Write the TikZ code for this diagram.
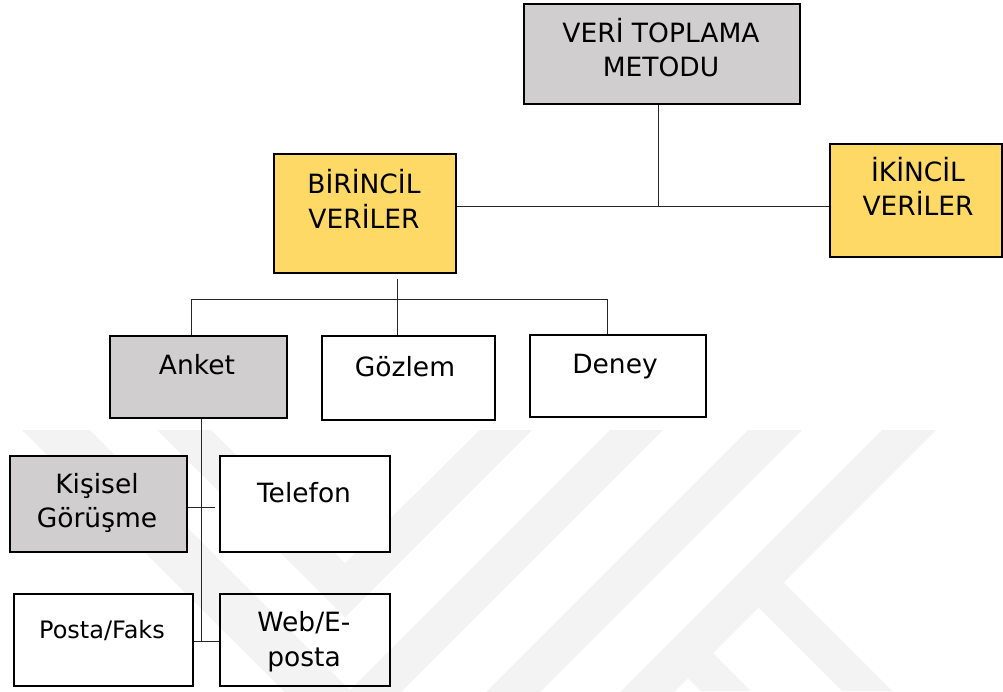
\documentclass[tikz,border=0pt]{standalone}
\usepackage{fontspec}
\setmainfont{DejaVu Sans}
\usetikzlibrary{calc}
\definecolor{boxgray}{HTML}{D0CECE}
\definecolor{boxyellow}{HTML}{FFD966}
\definecolor{wmgray}{HTML}{F3F3F3}
\definecolor{linkgray}{HTML}{262626}

\begin{document}
\begin{tikzpicture}[x=1pt,y=-1pt,
  box/.style={draw=black, line width=2.2pt, rectangle, inner sep=0pt, anchor=north west},
  link/.style={draw=linkgray, line width=1pt},
  lbl/.style={anchor=base, inner sep=0pt, font=\fontsize{26.5}{30}\selectfont},
  lblsmall/.style={anchor=base, inner sep=0pt, font=\fontsize{24}{28}\selectfont},
  wm/.style={fill=wmgray, draw=none}]

% canvas
\fill[white] (0,0) rectangle (1003,691);
\useasboundingbox (0,0) rectangle (1003,691);

% faint background emblem
\begin{scope}
  \clip (0,429) rectangle (1003,691);
  \fill[wm] (22,430) -- (90,430) -- (350,690) -- (610,430) -- (663,430) -- (343,750) -- cycle;
  \fill[wm] (157,430) -- (211,430) -- (345,563) -- (480,430) -- (532,430) -- (345,617) -- cycle;
  \fill[wm] (748,430) -- (802,430) -- (540,692) -- (486,692) -- cycle;
  \fill[wm] (882,430) -- (936,430) -- (674,692) -- (620,692) -- cycle;
  \fill[wm] (783,582) -- (892,691) -- (842,691) -- (758,607) -- cycle;
  \fill[wm] (712,652) -- (751,691) -- (701,691) -- (687,677) -- cycle;
\end{scope}

% boxes
\node[box, fill=boxgray,   minimum width=276pt, minimum height=100pt] (veri)    at (523,3)   {};
\node[box, fill=boxyellow, minimum width=182pt, minimum height=119pt] (bir)     at (273,153) {};
\node[box, fill=boxyellow, minimum width=172pt, minimum height=113pt] (iki)     at (829,143) {};
\node[box, fill=boxgray,   minimum width=177pt, minimum height=82pt]  (anket)   at (109,335) {};
\node[box, fill=white,     minimum width=173pt, minimum height=84pt]  (gozlem)  at (321,335) {};
\node[box, fill=white,     minimum width=176pt, minimum height=82pt]  (deney)   at (529,334) {};
\node[box, fill=boxgray,   minimum width=177pt, minimum height=96pt]  (kisisel) at (9,455)   {};
\node[box, fill=white,     minimum width=170pt, minimum height=96pt]  (telefon) at (219,455) {};
\node[box, fill=white,     minimum width=179pt, minimum height=92pt]  (posta)   at (13,593)  {};
\node[box,                 minimum width=170pt, minimum height=92pt]  (web)     at (219,593) {};

% labels
\node[lbl] (veri-a)    at (661,42)  {VERİ TOPLAMA};
\node[lbl] (veri-b)    at (661,76)  {METODU};
\node[lbl] (bir-a)     at (364,193) {BİRİNCİL};
\node[lbl] (bir-b)     at (364,228) {VERİLER};
\node[lbl] (iki-a)     at (918,181) {İKİNCİL};
\node[lbl] (iki-b)     at (918,215) {VERİLER};
\node[lbl] (anket-a)   at (197,374) {Anket};
\node[lbl] (gozlem-a)  at (405,376) {Gözlem};
\node[lbl] (deney-a)   at (615,373) {Deney};
\node[lbl] (kisisel-a) at (97,493)  {Kişisel};
\node[lbl] (kisisel-b) at (97,527)  {Görüşme};
\node[lbl] (telefon-a) at (304,502) {Telefon};
\node[lblsmall] (posta-a) at (102,638) {Posta/Faks};
\node[lbl] (web-a)     at (304,631) {Web/E-};
\node[lbl] (web-b)     at (304,666) {posta};

% connectors
\coordinate (jtop)   at (658,206);
\coordinate (birtop) at (397,279);
\coordinate (busl)   at (191,299);
\coordinate (busr)   at (607,299);
\coordinate (ankend) at (201,641);
\coordinate (telend) at (215,507);

\draw[link] (veri.south -| jtop) -- (jtop);
\draw[link] (bir.east |- jtop) -- (iki.west |- jtop);
\draw[link] (birtop) -- (gozlem.north -| birtop);
\draw[link] (busl) -- (busr);
\draw[link] (busl) -- (anket.north -| busl);
\draw[link] (busr) -- (deney.north -| busr);
\draw[link] (anket.south -| ankend) -- (ankend);
\draw[link] (kisisel.east |- telend) -- (telend);
\draw[link] (posta.east |- ankend) -- (web.west |- ankend);
\end{tikzpicture}
\end{document}
